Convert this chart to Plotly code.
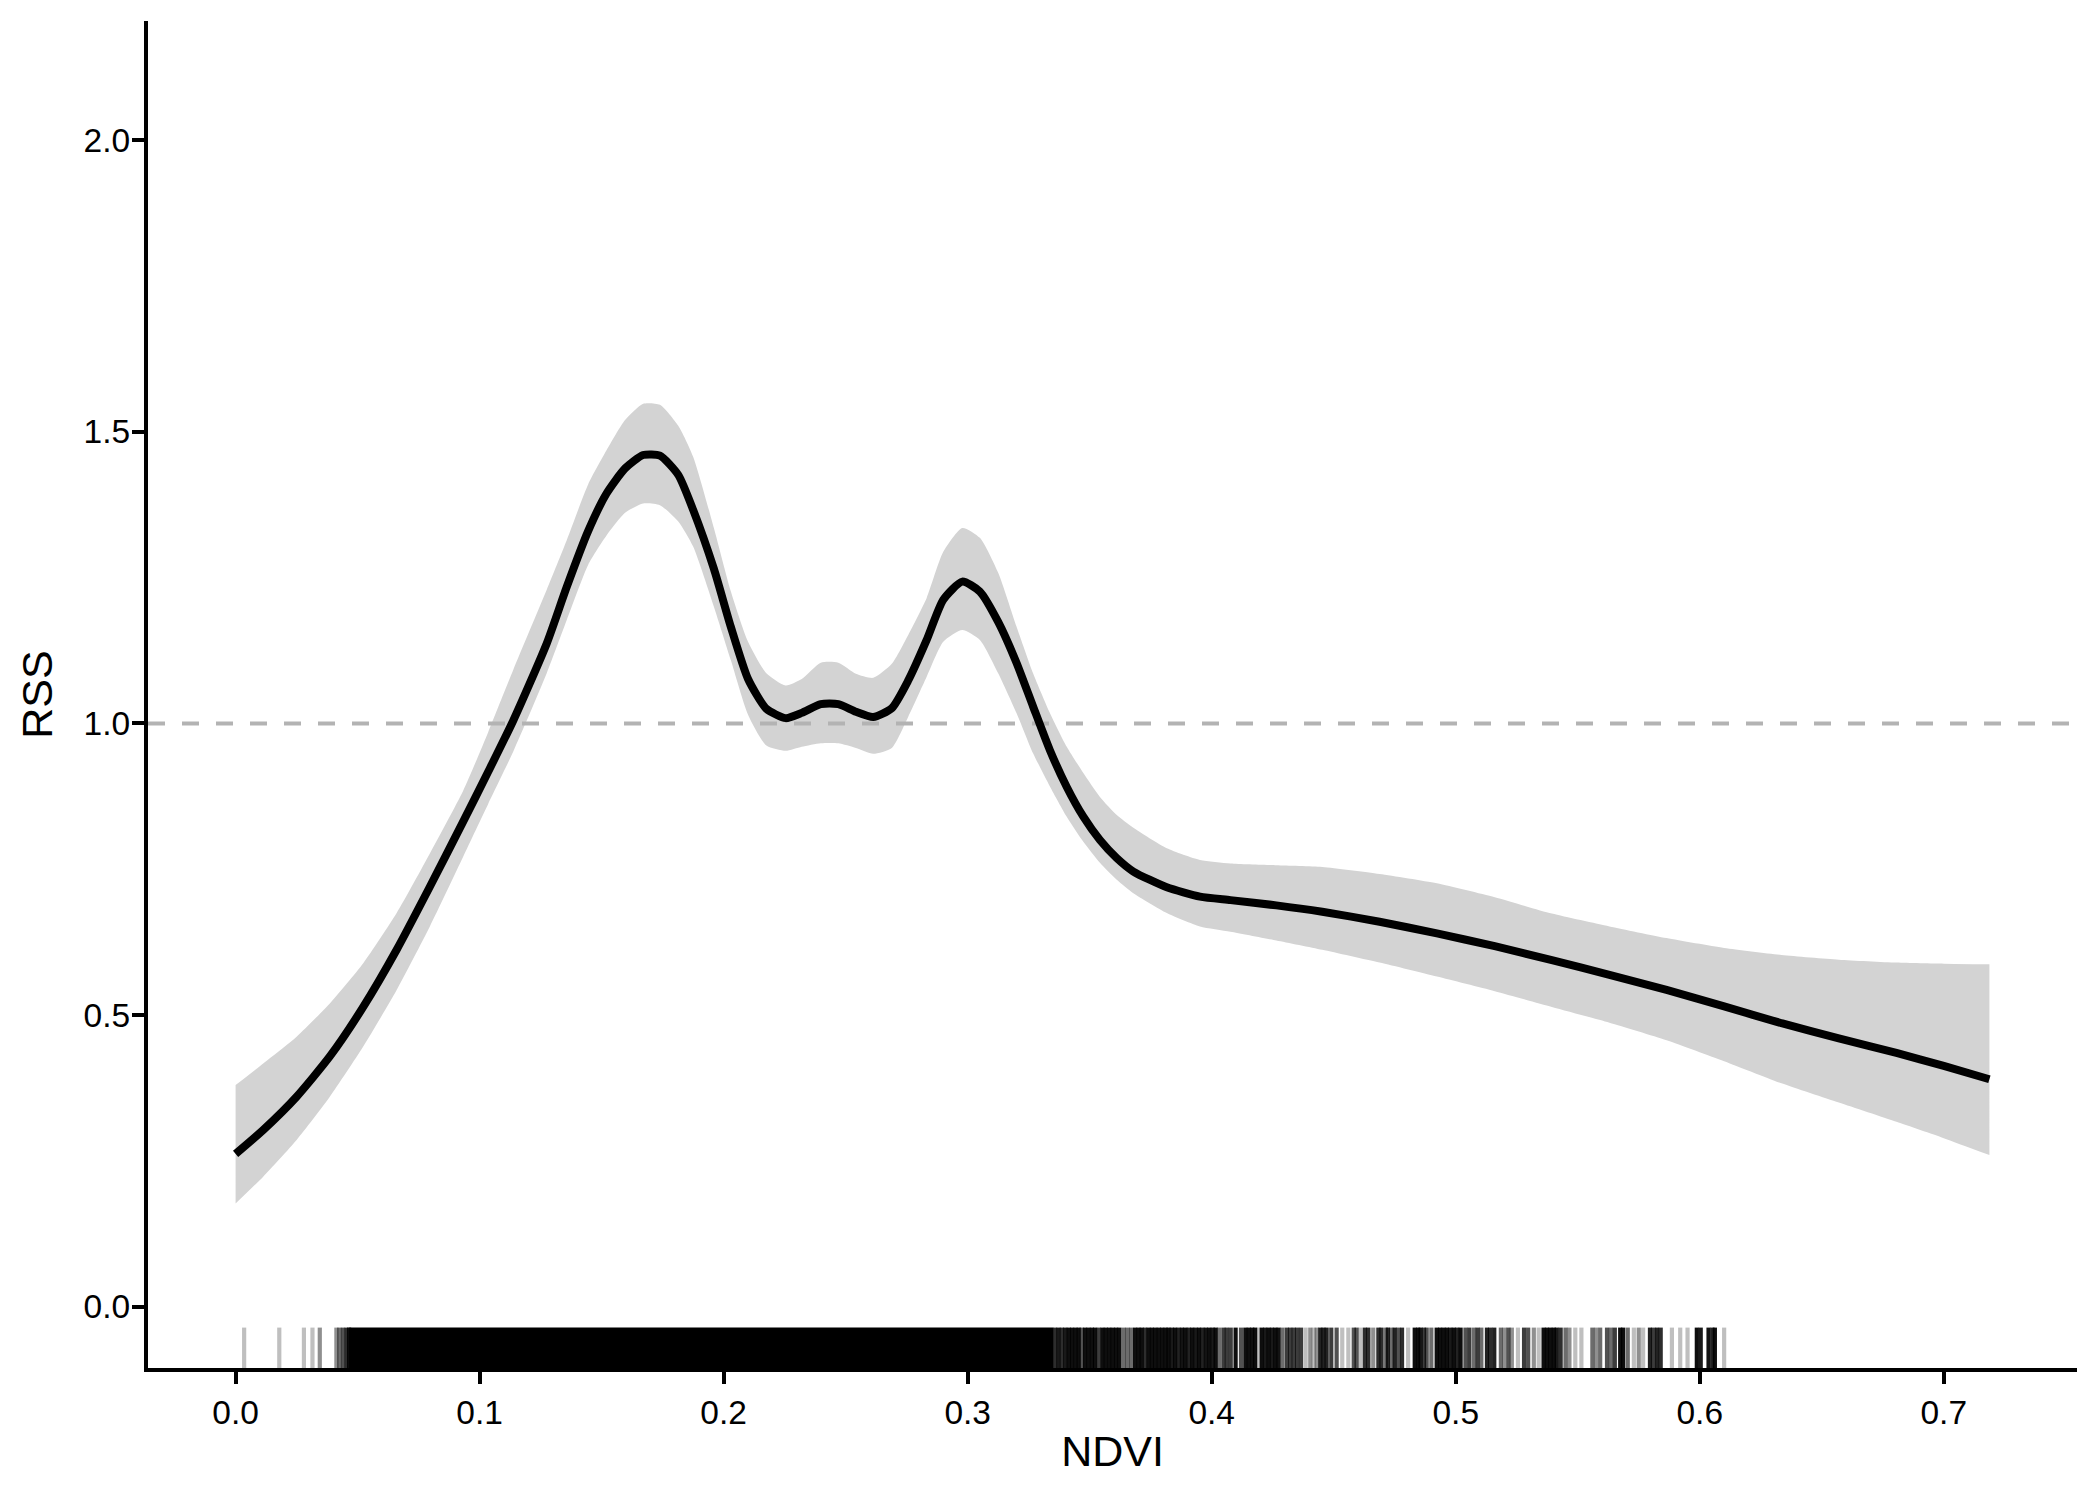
import plotly.graph_objects as go

# ---------------- data ----------------
ndvi = [0.000, 0.0113, 0.025, 0.0386, 0.0523, 0.066, 0.0796, 0.0933, 0.1035, 0.1138,
        0.1275, 0.1357, 0.1445, 0.152, 0.1596, 0.167, 0.1739, 0.1814, 0.1875, 0.196,
        0.2029, 0.210, 0.2175, 0.2254, 0.232, 0.2398, 0.247, 0.2542, 0.2613, 0.2689,
        0.2757, 0.2832, 0.290, 0.2978, 0.305, 0.3125, 0.320, 0.3268, 0.3337, 0.3406,
        0.3474, 0.3542, 0.3611, 0.3679, 0.3816, 0.3952, 0.4077, 0.4265, 0.4453, 0.4688,
        0.4923, 0.516, 0.5394, 0.563, 0.5864, 0.610, 0.6335, 0.657, 0.6806, 0.700,
        0.7187]
rss = [0.262, 0.303, 0.360, 0.429, 0.514, 0.612, 0.720, 0.832, 0.917, 1.005,
       1.137, 1.234, 1.330, 1.394, 1.437, 1.460, 1.459, 1.426, 1.366, 1.265,
       1.166, 1.076, 1.025, 1.009, 1.018, 1.033, 1.033, 1.020, 1.011, 1.026,
       1.074, 1.143, 1.212, 1.243, 1.226, 1.174, 1.104, 1.029, 0.954, 0.891,
       0.840, 0.800, 0.769, 0.746, 0.719, 0.703, 0.697, 0.688, 0.677, 0.660,
       0.640, 0.618, 0.594, 0.569, 0.543, 0.515, 0.486, 0.460, 0.435, 0.413,
       0.390]
rss_lo = [0.177, 0.223, 0.286, 0.360, 0.446, 0.543, 0.652, 0.772, 0.862, 0.952,
          1.086, 1.177, 1.272, 1.322, 1.361, 1.377, 1.374, 1.346, 1.303, 1.200,
          1.109, 1.015, 0.962, 0.953, 0.960, 0.966, 0.966, 0.958, 0.948, 0.958,
          1.012, 1.080, 1.140, 1.160, 1.143, 1.086, 1.018, 0.949, 0.892, 0.840,
          0.797, 0.761, 0.732, 0.709, 0.675, 0.652, 0.643, 0.628, 0.612, 0.590,
          0.566, 0.541, 0.514, 0.487, 0.457, 0.421, 0.383, 0.350, 0.317, 0.289,
          0.260]
rss_hi = [0.380, 0.417, 0.463, 0.520, 0.589, 0.675, 0.777, 0.885, 0.985, 1.092,
          1.229, 1.314, 1.410, 1.468, 1.520, 1.548, 1.546, 1.510, 1.457, 1.335,
          1.227, 1.140, 1.086, 1.065, 1.076, 1.104, 1.104, 1.085, 1.078, 1.102,
          1.152, 1.215, 1.294, 1.335, 1.318, 1.258, 1.166, 1.086, 1.018, 0.960,
          0.915, 0.874, 0.843, 0.821, 0.786, 0.766, 0.760, 0.757, 0.754, 0.742,
          0.726, 0.702, 0.674, 0.652, 0.632, 0.615, 0.603, 0.595, 0.590, 0.588,
          0.587]
ref_rss = 1.0

# rug: observed NDVI positions and number of overlapping observations
rug_x = [0.0035, 0.0179, 0.0280, 0.0315, 0.0345, 0.0413, 0.0425, 0.0440, 0.0455, 0.0465,
         0.3358, 0.3372, 0.3386, 0.3400, 0.3414, 0.3428, 0.3442, 0.3455, 0.3467, 0.3481,
         0.3495, 0.3509, 0.3522, 0.3537, 0.3552, 0.3566, 0.3580, 0.3594, 0.3608, 0.3622,
         0.3640, 0.3655, 0.3670, 0.3686, 0.3700, 0.3713, 0.3727, 0.3741, 0.3755, 0.3769,
         0.3783, 0.3797, 0.3811, 0.3823, 0.3836, 0.3850, 0.3864, 0.3878, 0.3892, 0.3906,
         0.3920, 0.3934, 0.3948, 0.3962, 0.3976, 0.3990, 0.4004, 0.4016, 0.4030, 0.4048,
         0.4062, 0.4078, 0.4098, 0.4120, 0.4138, 0.4152, 0.4166, 0.4178, 0.4191, 0.4205,
         0.4219, 0.4233, 0.4247, 0.4261, 0.4274, 0.4290, 0.4308, 0.4322, 0.4336, 0.4350,
         0.4366, 0.4385, 0.4404, 0.4418, 0.4430, 0.4445, 0.4458, 0.4471, 0.4490, 0.4512,
         0.4535, 0.4560, 0.4582, 0.4594, 0.4611, 0.4628, 0.4642, 0.4662, 0.4683, 0.4696,
         0.4715, 0.4722, 0.4736, 0.4750, 0.4765, 0.4780, 0.4805, 0.4832, 0.4846, 0.4856,
         0.4870, 0.4881, 0.4900, 0.4922, 0.4936, 0.4950, 0.4964, 0.4978, 0.4992, 0.5006,
         0.5020, 0.5040, 0.5056, 0.5075, 0.5090, 0.5105, 0.5128, 0.5142, 0.5158, 0.5185,
         0.5200, 0.5216, 0.5230, 0.5255, 0.5280, 0.5297, 0.5320, 0.5340, 0.5360, 0.5374,
         0.5388, 0.5402, 0.5414, 0.5430, 0.5450, 0.5466, 0.5490, 0.5515, 0.5560, 0.5575,
         0.5592, 0.5620, 0.5636, 0.5652, 0.5674, 0.5686, 0.5705, 0.5730, 0.5750, 0.5768,
         0.5796, 0.5810, 0.5825, 0.5840, 0.5886, 0.5920, 0.5950, 0.5988, 0.6004, 0.6036,
         0.6052, 0.6062, 0.6100]
rug_n = [1, 1, 1, 1, 2, 2, 3, 4, 6, 8,
         6, 8, 6, 8, 10, 10, 10, 10, 4, 10,
         10, 10, 10, 5, 10, 10, 10, 10, 10, 10,
         3, 3, 3, 10, 10, 10, 6, 10, 10, 10,
         10, 10, 10, 10, 8, 10, 7, 9, 10, 7,
         10, 8, 10, 7, 9, 10, 8, 10, 3, 5,
         5, 5, 10, 4, 10, 10, 10, 10, 1, 10,
         8, 10, 8, 10, 9, 3, 5, 5, 5, 5,
         5, 1, 2, 1, 2, 7, 7, 7, 5, 4,
         1, 1, 4, 4, 1, 6, 6, 2, 6, 6,
         3, 6, 3, 7, 4, 6, 1, 10, 10, 8,
         5, 4, 3, 10, 10, 10, 10, 8, 10, 7,
         10, 4, 5, 3, 5, 3, 7, 6, 7, 3,
         2, 4, 2, 1, 5, 4, 2, 1, 10, 10,
         10, 10, 8, 6, 3, 2, 1, 1, 3, 2,
         3, 4, 3, 5, 10, 10, 3, 1, 2, 1,
         7, 5, 7, 6, 1, 1, 1, 10, 8, 9,
         7, 10, 1]
# span where the rug is saturated (observations too dense to separate)
rug_dense_lo = [0.0465]
rug_dense_hi = [0.3351]
rug_alpha = 0.25

x_ticks = [0.0, 0.1, 0.2, 0.3, 0.4, 0.5, 0.6, 0.7]
y_ticks = [0.0, 0.5, 1.0, 1.5, 2.0]
x_title = "NDVI"
y_title = "RSS"

# ---------------- layout constants ----------------
X_RANGE = [-0.0359, 0.7546]
Y_RANGE = [-0.105, 2.204]
RUG_FRAC = 0.03
FONT = "Liberation Sans, Arial, Helvetica, sans-serif"
SMOOTH = 0.6

rug_y0 = Y_RANGE[0]
rug_y1 = Y_RANGE[0] + RUG_FRAC * (Y_RANGE[1] - Y_RANGE[0])

fig = go.Figure()

# confidence ribbon (lower bound, then upper bound filled to it)
fig.add_trace(go.Scatter(
    x=ndvi, y=rss_lo, mode="lines",
    line=dict(width=0, color="#d3d3d3", shape="spline", smoothing=SMOOTH),
    hoverinfo="skip", showlegend=False))
fig.add_trace(go.Scatter(
    x=ndvi, y=rss_hi, mode="lines", fill="tonexty", fillcolor="#d3d3d3",
    line=dict(width=0, color="#d3d3d3", shape="spline", smoothing=SMOOTH),
    hoverinfo="skip", showlegend=False))

# reference line
fig.add_trace(go.Scatter(
    x=[X_RANGE[0], X_RANGE[1]], y=[ref_rss, ref_rss], mode="lines",
    line=dict(color="#b3b3b3", width=4, dash="17px,17px"),
    hoverinfo="skip", showlegend=False))

# mean curve
fig.add_trace(go.Scatter(
    x=ndvi, y=rss, mode="lines",
    line=dict(color="black", width=8, shape="spline", smoothing=SMOOTH),
    showlegend=False))

# rug: saturated span
for lo, hi in zip(rug_dense_lo, rug_dense_hi):
    fig.add_trace(go.Scatter(
        x=[lo, hi, hi, lo], y=[rug_y0, rug_y0, rug_y1, rug_y1],
        fill="toself", fillcolor="black", line=dict(width=0),
        mode="lines", hoverinfo="skip", showlegend=False))

# rug: individual lines grouped by overlap count
groups = {}
for xv, n in zip(rug_x, rug_n):
    groups.setdefault(n, []).append(xv)
for n in sorted(groups):
    xs, ys = [], []
    for xv in groups[n]:
        xs += [xv, xv, None]
        ys += [rug_y0, rug_y1, None]
    a = 1 - (1 - rug_alpha) ** n
    fig.add_trace(go.Scatter(
        x=xs, y=ys, mode="lines",
        line=dict(color=f"rgba(0,0,0,{a:.3f})", width=4.2),
        hoverinfo="skip", showlegend=False))

axis_common = dict(
    showline=True, linecolor="black", linewidth=4.4,
    ticks="outside", ticklen=12, tickwidth=4.4, tickcolor="black",
    showgrid=False, zeroline=False,
    tickfont=dict(family=FONT, size=33.5, color="black"),
    automargin=False,
)

fig.update_xaxes(
    range=X_RANGE, tickvals=x_ticks, tickformat=".1f",
    title=dict(text=x_title, font=dict(family=FONT, size=43, color="black"), standoff=6),
    **axis_common)
fig.update_yaxes(
    range=Y_RANGE, tickvals=y_ticks, tickformat=".1f", ticklabelstandoff=-5,
    title=dict(text=y_title, font=dict(family=FONT, size=43, color="black"), standoff=18),
    **axis_common)

# the page body adds an 8 px offset; size the figure so the panel lands in place
fig.update_layout(
    width=2092, height=1492,
    margin=dict(l=140, r=23, t=13, b=132),
    plot_bgcolor="white", paper_bgcolor="white",
    showlegend=False,
)

fig.write_html("out.html")
